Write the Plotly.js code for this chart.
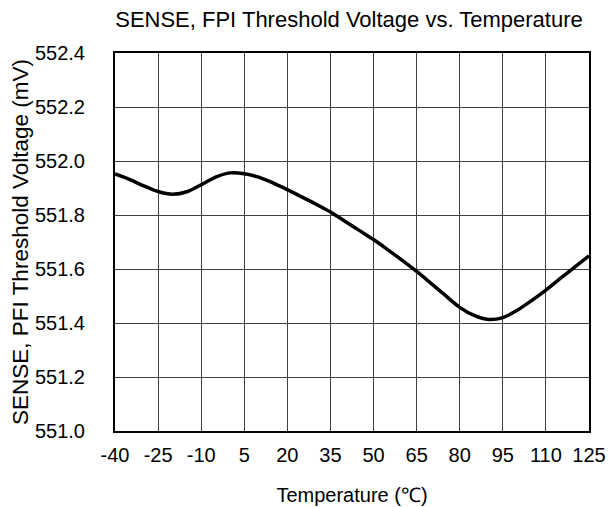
<!DOCTYPE html>
<html>
<head>
<meta charset="utf-8">
<script src="https://cdn.plot.ly/plotly-3.0.1.min.js"></script>
<style>html,body{margin:0;padding:0;background:#fff;}#chart{width:608px;height:507px;}</style>
</head>
<body>
<div id="chart"></div>
<script>
const temperature = [-40,-35,-30,-25,-20,-15,-10,-5,0,5,10,15,20,25,30,35,40,45,50,55,60,65,70,75,80,85,90,95,100,105,110,115,120,125];
const voltage = [551.952,551.932,551.908,551.887,551.877,551.886,551.912,551.940,551.956,551.953,551.940,551.919,551.894,551.867,551.840,551.811,551.777,551.743,551.709,551.671,551.632,551.591,551.547,551.502,551.458,551.428,551.413,551.420,551.447,551.483,551.522,551.565,551.607,551.649];
const xTicks = [-40,-25,-10,5,20,35,50,65,80,95,110,125];
const yTicks = [551.0,551.2,551.4,551.6,551.8,552.0,552.2,552.4];

const font = {family: 'Arial, "Liberation Sans", sans-serif', color: '#000', size: 20};

Plotly.newPlot('chart', [{
  x: temperature, y: voltage, type: 'scatter', mode: 'lines',
  line: {color: '#000', width: 3.5, shape: 'spline', smoothing: 0.8},
  hoverinfo: 'skip'
}], {
  width: 608, height: 507,
  margin: {l: 115, r: 19, t: 53, b: 76},
  paper_bgcolor: '#fff', plot_bgcolor: '#fff',
  font: font,
  showlegend: false,
  title: {text: 'SENSE, FPI Threshold Voltage vs. Temperature', font: {size: 22, color: '#000'}, x: 0.574, xanchor: 'center', y: 0.962, yanchor: 'middle'},
  xaxis: {
    range: [-40, 125], tickmode: 'array', tickvals: xTicks, ticktext: xTicks.map(String),
    showgrid: true, gridcolor: '#404040', gridwidth: 1,
    showline: true, linecolor: '#000', linewidth: 2, mirror: true,
    zeroline: false, ticks: '', ticklabelstandoff: 5,
    title: {text: 'Temperature (℃)', font: {size: 20}, standoff: 23}
  },
  yaxis: {
    range: [551.0, 552.4], tickmode: 'array', tickvals: yTicks, ticktext: yTicks.map(v => v.toFixed(1)),
    showgrid: true, gridcolor: '#404040', gridwidth: 1,
    showline: true, linecolor: '#000', linewidth: 2, mirror: true,
    zeroline: false, ticks: '', ticklabelstandoff: 24,
    title: {text: 'SENSE, PFI Threshold Voltage (mV)', font: {size: 22.5}, standoff: 0}
  }
}, {displayModeBar: false, staticPlot: true});
</script>
</body>
</html>
